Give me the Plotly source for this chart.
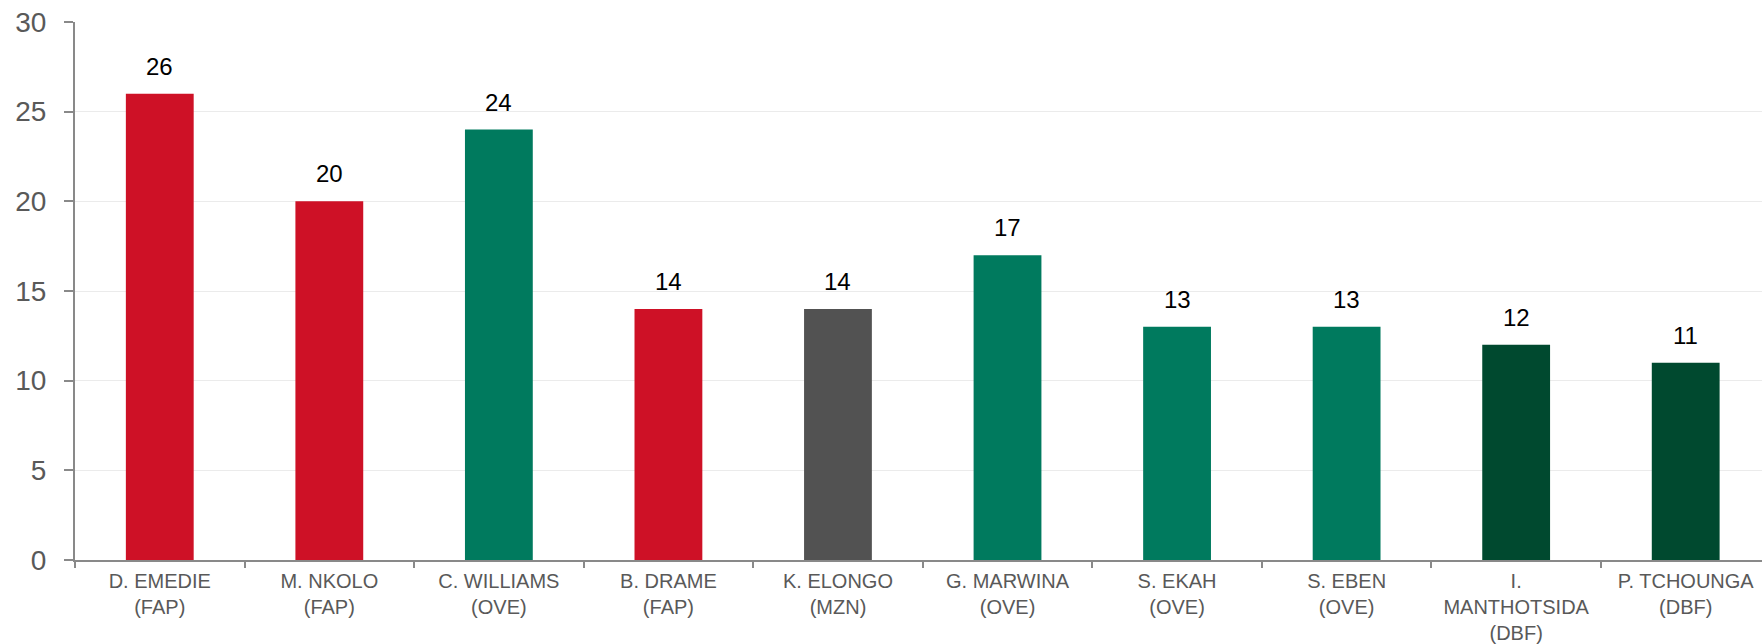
import plotly.graph_objects as go

players = ["D. EMEDIE<br>(FAP)", "M. NKOLO<br>(FAP)", "C. WILLIAMS<br>(OVE)", "B. DRAME<br>(FAP)",
           "K. ELONGO<br>(MZN)", "G. MARWINA<br>(OVE)", "S. EKAH<br>(OVE)", "S. EBEN<br>(OVE)",
           "I.<br>MANTHOTSIDA<br>(DBF)", "P. TCHOUNGA<br>(DBF)"]
teams = ["FAP", "FAP", "OVE", "FAP", "MZN", "OVE", "OVE", "OVE", "DBF", "DBF"]
values = [26, 20, 24, 14, 14, 17, 13, 13, 12, 11]
team_colors = {"FAP": "#CE1126", "OVE": "#007A5E", "MZN": "#525252", "DBF": "#00492F"}
y_ticks = [0, 5, 10, 15, 20, 25, 30]

fig = go.Figure()
fig.add_trace(go.Bar(
    x=players, y=values,
    marker=dict(color=[team_colors[t] for t in teams], line=dict(width=0)),
    width=0.4, showlegend=False, hoverinfo="x+y",
))

for p, v in zip(players, values):
    fig.add_annotation(x=p, y=v, text=str(v), showarrow=False, yanchor="bottom",
                       yshift=12, font=dict(family="Liberation Sans, Arial", size=24, color="#000000"))

fig.update_layout(
    width=1762, height=644,
    margin=dict(l=75, r=0, t=22, b=84, pad=0, autoexpand=False),
    plot_bgcolor="white", paper_bgcolor="white",
    font=dict(family="Liberation Sans, Arial", color="#595959"),
    bargap=0.6,
)
fig.update_xaxes(
    range=[-0.5, 9.45], showline=True, linecolor="#898989", linewidth=2,
    ticks="outside", tickson="boundaries", ticklen=6, tickcolor="#898989", tickwidth=2,
    tickfont=dict(size=20, color="#595959"), showgrid=False, ticklabelstandoff=2,
    automargin=False,
)
fig.update_yaxes(
    range=[0, 30], tickvals=y_ticks, showline=True, linecolor="#898989", linewidth=2,
    ticks="outside", ticklen=9, tickcolor="#898989", tickwidth=2,
    tickfont=dict(size=28, color="#595959"), showgrid=True, gridcolor="#EBEBEB", gridwidth=1,
    ticklabelstandoff=12, zeroline=False, automargin=False,
)

fig.write_html("out.html", config={"displayModeBar": False},
               post_script="document.body.style.margin='0';document.body.style.overflow='hidden';")
